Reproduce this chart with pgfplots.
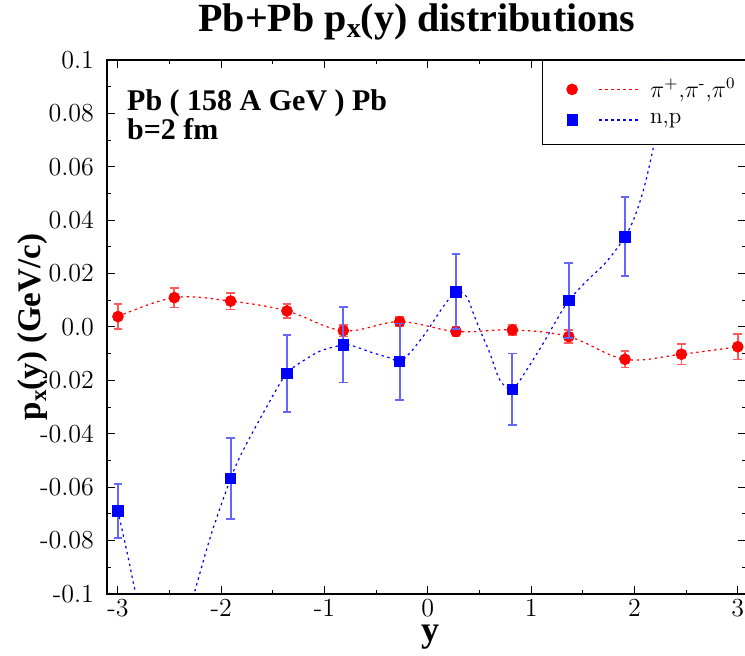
\documentclass[border=0pt]{standalone}
\usepackage{pgfplots}
\pgfplotsset{compat=1.18}
\usepackage{pgfplotstable}
\usepackage{amsmath}
\usepackage{fontspec}
\newfontfamily\tnr{Liberation Serif}

\pgfplotsset{
  pilegend/.style={legend image code/.code={%
    \path[draw=none] (-12pt,0pt) -- (37pt,0pt);
    \draw[draw=red, color=red, line width=0.8pt, dash pattern=on 1.2pt off 1.8pt] (13.5pt,0pt) -- (33.5pt,0pt);
    \draw[##1] plot coordinates {(0pt,0pt)};}},
  nplegend/.style={legend image code/.code={%
    \path[draw=none] (-12pt,0pt) -- (37pt,0pt);
    \draw[draw=blue, color=blue, line width=0.75pt, dash pattern=on 1.2pt off 1.8pt] (13.5pt,0pt) -- (33.5pt,0pt);
    \draw[##1] plot coordinates {(0pt,0pt)};}},
}

\pgfplotstableread{
x y e
-3.0000  0.0039 0.0047
-2.4545  0.0110 0.0037
-1.9091  0.0097 0.0031
-1.3636  0.0060 0.0026
-0.8182 -0.0014 0.0021
-0.2727  0.0020 0.0017
 0.2727 -0.0017 0.0018
 0.8182 -0.0011 0.0020
 1.3636 -0.0036 0.0025
 1.9091 -0.0121 0.0030
 2.4545 -0.0102 0.0039
 3.0000 -0.0074 0.0048
}\pions

\pgfplotstableread{
x y e
-3.0000 -0.0689 0.0100
-1.9091 -0.0568 0.0151
-1.3636 -0.0173 0.0144
-0.8182 -0.0067 0.0141
-0.2727 -0.0130 0.0143
 0.2727  0.0132 0.0140
 0.8182 -0.0233 0.0134
 1.3636  0.0099 0.0141
 1.9091  0.0338 0.0148
}\nucleons

\pgfplotstableread{
x y
-3.000 -0.0689
-2.900 -0.0865
-2.826 -0.1000
-2.700 -0.1160
-2.550 -0.1230
-2.400 -0.1170
-2.264 -0.1000
-2.100 -0.0780
-1.909 -0.0568
-1.787 -0.0461
-1.560 -0.0299
-1.364 -0.0173
-1.141 -0.0111
-1.013 -0.0086
-0.818 -0.0067
-0.725 -0.0071
-0.531 -0.0097
-0.367 -0.0116
-0.273 -0.0130
-0.173 -0.0097
-0.047 -0.0036
 0.020  0.0001
 0.149  0.0076
 0.273  0.0132
 0.376  0.0113
 0.440  0.0051
 0.504 -0.0011
 0.601 -0.0099
 0.698 -0.0199
 0.818 -0.0233
 0.956 -0.0161
 1.117 -0.0061
 1.246  0.0026
 1.364  0.0099
 1.537  0.0172
 1.731  0.0245
 1.909  0.0338
 2.000  0.0410
 2.092  0.0520
 2.179  0.0665
 2.250  0.0820
 2.320  0.1000
 2.380  0.1200
}\nucurve

\begin{document}
\begin{tikzpicture}
\begin{axis}[
  at={(0,0)}, anchor=south west,
  scale only axis, width=319.5pt, height=267pt,
  xmin=-3.106, xmax=3.08, ymin=-0.1, ymax=0.1,
  clip mode=individual,
  xtick={-3,-2,-1,0,1,2,3},
  xticklabels={-3,-2,-1,0,1,2,3},
  ytick={-0.1,-0.08,-0.06,-0.04,-0.02,0,0.02,0.04,0.06,0.08,0.1},
  yticklabels={-0.1,-0.08,-0.06,-0.04,-0.02,0.0,0.02,0.04,0.06,0.08,0.1},
  minor x tick num=1, minor y tick num=1,
  tick align=inside, major tick length=4pt, minor tick length=2pt,
  tick style={black, line width=0.5pt},
  axis line style={line width=0.6pt},
  tick label style={font=\fontsize{13}{15}\selectfont},
  xticklabel style={inner sep=1pt, yshift=-1.5pt},
  yticklabel style={xshift=-3pt},
  legend style={at={(rel axis cs:1,1)}, anchor=north east, draw=black,
    fill=white, inner xsep=3pt, inner ysep=7pt, row sep=2.5pt,
    font=\fontsize{11.5}{13}\selectfont},
  legend cell align=left,
]
\addplot[blue, line width=0.6pt, dash pattern=on 1.2pt off 1.8pt, smooth, tension=0.5, forget plot]
  table[x=x, y=y] {\nucurve};
\addplot[red, line width=0.6pt, dash pattern=on 1.2pt off 1.8pt, smooth, tension=0.6, forget plot]
  table[x=x, y=y] {\pions};

\addplot[only marks, mark=*, mark size=2.7pt, red, pilegend,
  error bars/.cd, y dir=both, y explicit,
  error bar style={red!65!white, line width=0.8pt},
  error mark options={rotate=90, mark size=2.2pt, red!65!white, line width=0.8pt},
] table[x=x, y=y, y error=e] {\pions};
\addlegendentry{$\pi^{+}$,$\pi^{\text{-}}$,$\pi^{0}$\hspace{9pt}}

\addplot[only marks, mark=square*, mark size=2.6pt, blue, nplegend,
  error bars/.cd, y dir=both, y explicit,
  error bar style={blue!60!white, line width=0.9pt},
  error mark options={rotate=90, mark size=2.2pt, blue!60!white, line width=0.9pt},
] table[x=x, y=y, y error=e] {\nucleons};
\addlegendentry{n,p}

\node[anchor=base west, inner sep=0pt, font=\tnr\bfseries\fontsize{15}{17}\selectfont]
  at (rel axis cs:0.031,0.906) {Pb ( 158 A GeV ) Pb};
\node[anchor=base west, inner sep=0pt, font=\tnr\bfseries\fontsize{15}{17}\selectfont]
  at (rel axis cs:0.031,0.852) {b=2 fm};
\node[anchor=base, inner sep=0pt, font=\tnr\bfseries\fontsize{20}{22}\selectfont]
  at (rel axis cs:0.485,1.054) {Pb+Pb p\raisebox{-0.35ex}{\fontsize{14}{15}\selectfont x}(y) distributions};
\node[rotate=90, inner sep=0pt, font=\tnr\bfseries\fontsize{16.5}{18}\selectfont]
  at (rel axis cs:-0.116,0.5) {p\raisebox{-0.35ex}{\fontsize{11.5}{12}\selectfont x}(y) (GeV/c)};
\node[anchor=base, inner sep=0pt, font=\tnr\bfseries\fontsize{18}{20}\selectfont]
  at (rel axis cs:0.5055,-0.089) {y};
\end{axis}
\pgfresetboundingbox
\useasboundingbox (-53.5pt,-31pt) rectangle (319pt,297pt);
\end{tikzpicture}
\end{document}
